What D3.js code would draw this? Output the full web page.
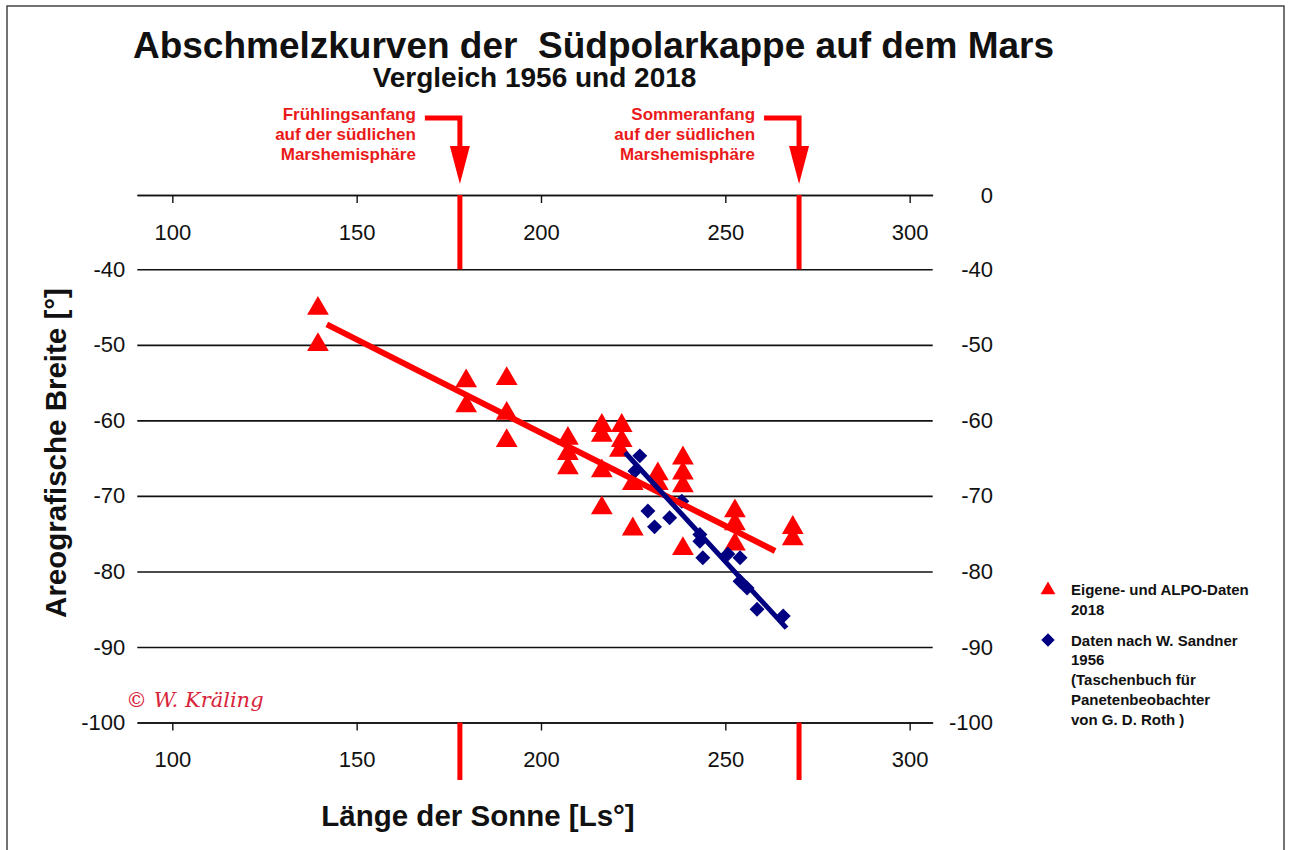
<!DOCTYPE html>
<html>
<head>
<meta charset="utf-8">
<script src="https://cdn.jsdelivr.net/npm/d3@7"></script>
<style>
  html, body { margin: 0; padding: 0; background: #fff; }
  svg { display: block; font-family: "Liberation Sans", Arial, sans-serif; }
</style>
</head>
<body>
<svg id="chart" width="1291" height="850"></svg>
<script>
// ---- data ----
const xTicks = [100, 150, 200, 250, 300];
const yTicksLeft = [-40, -50, -60, -70, -80, -90, -100];
const yTicksRight = [0, -40, -50, -60, -70, -80, -90, -100];
const yGridTicks = [0, -40, -50, -60, -70, -80, -90, -100];
const seasonLs = [178, 270];   // Frühlingsanfang, Sommeranfang

// 2018 data (Eigene- und ALPO-Daten): [Ls, areographic latitude]
const ls2018 = [139.5, 139.5, 179.7, 179.7, 190.7, 190.7, 190.7, 207.3, 207.3, 207.3,
                216.5, 216.5, 216.5, 216.5, 221.9, 221.9, 221.4, 224.9, 224.9, 231.7,
                231.7, 238.5, 238.5, 238.5, 238.5, 252.6, 252.6, 252.6, 268.3, 268.3];
const lat2018 = [-45.2, -50.0, -54.8, -58.1, -54.5, -59.1, -62.7, -62.4, -64.4, -66.3,
                 -60.7, -62.0, -66.7, -71.6, -60.7, -62.7, -64.0, -68.4, -74.4, -67.1,
                 -68.4, -65.0, -67.0, -68.7, -77.0, -72.0, -73.7, -76.4, -74.2, -75.7];

// 1956 data (W. Sandner)
const ls1956 = [226.8, 225.5, 229.0, 230.8, 234.9, 238.2, 243.1, 243.1, 243.9, 250.7,
                254.0, 254.0, 255.9, 258.6, 265.7];
const lat1956 = [-64.7, -66.7, -72.0, -74.1, -72.9, -70.7, -75.1, -76.0, -78.2, -77.7,
                 -78.2, -81.3, -82.2, -85.0, -85.9];

// trend line end points
const trendLs2018 = [141.9, 263.5];
const trendLat2018 = [-47.3, -77.3];
const trendLs1956 = [222.8, 266.6];
const trendLat1956 = [-64.25, -87.5];

const legendLines2018 = ["Eigene- und ALPO-Daten", "2018"];
const legendLines1956 = ["Daten nach W. Sandner", "1956", "(Taschenbuch für", "Panetenbeobachter", "von G. D. Roth )"];
const springLabel = ["Frühlingsanfang", "auf der südlichen", "Marshemisphäre"];
const summerLabel = ["Sommeranfang", "auf der südlichen", "Marshemisphäre"];

// ---- drawing ----
(function () {
const RED = "#ff0000", NAVY = "#000080", TXTRED = "#ea1a1a";
const svg = d3.select("#chart");
const pLeft = 137.3, pRight = 932.7, pTop = 195, yM40 = 269.3, pBottom = 722.5;
const fmt = d => String(d);   // plain hyphen-minus as in the reference

const x = d3.scaleLinear().domain([90.5, 306.25]).range([pLeft, pRight]);
// broken axis: 0 is drawn directly above -40
const y = d3.scaleLinear().domain([0, -40, -100]).range([pTop, yM40, pBottom]);

// frame
svg.append("rect").attr("x", 7).attr("y", 6).attr("width", 1277).attr("height", 860)
  .attr("fill", "none").attr("stroke", "#444").attr("stroke-width", 1.5);

// title
svg.append("text").attr("x", 593.5).attr("y", 58).attr("text-anchor", "middle")
  .attr("font-size", 37).attr("font-weight", "bold").attr("fill", "#111")
  .style("white-space", "pre")
  .text("Abschmelzkurven der  Südpolarkappe auf dem Mars");
svg.append("text").attr("x", 534.5).attr("y", 86.5).attr("text-anchor", "middle")
  .attr("font-size", 28).attr("font-weight", "bold").attr("fill", "#111")
  .text("Vergleich 1956 und 2018");

// gridlines
const grid = svg.append("g").attr("transform", `translate(${pRight},0)`)
  .call(d3.axisLeft(y).tickValues(yGridTicks).tickSize(pRight - pLeft).tickFormat(""));
grid.select(".domain").remove();
grid.selectAll("line").attr("stroke", "#111").attr("stroke-width", 1.6);

// x axes (top at 0 line, bottom at -100 line)
function styleX(g) {
  g.select(".domain").attr("stroke", "#111").attr("stroke-width", 1.6);
  g.selectAll(".tick line").attr("stroke", "#111").attr("stroke-width", 1.4);
  g.selectAll(".tick text").attr("font-size", 22).attr("fill", "#111")
    .attr("font-family", "'Liberation Sans', Arial, sans-serif");
}
svg.append("g").attr("transform", `translate(0,${pTop})`)
  .call(d3.axisBottom(x).tickValues(xTicks).tickFormat(fmt).tickSize(8).tickSizeOuter(0).tickPadding(21))
  .call(styleX);
svg.append("g").attr("transform", `translate(0,${pBottom})`)
  .call(d3.axisBottom(x).tickValues(xTicks).tickFormat(fmt).tickSize(8).tickSizeOuter(0).tickPadding(21))
  .call(styleX);

// y labels
function styleY(g) {
  g.select(".domain").remove();
  g.selectAll(".tick line").remove();
  g.selectAll(".tick text").attr("font-size", 22).attr("fill", "#111")
    .attr("font-family", "'Liberation Sans', Arial, sans-serif");
}
svg.append("g").attr("transform", `translate(${pLeft - 12},0)`)
  .call(d3.axisLeft(y).tickValues(yTicksLeft).tickFormat(fmt).tickSize(0).tickPadding(0)).call(styleY);
svg.append("g").attr("transform", `translate(993,0)`)
  .call(d3.axisLeft(y).tickValues(yTicksRight).tickFormat(fmt).tickSize(0).tickPadding(0)).call(styleY);

// season lines
const seasons = svg.append("g");
seasonLs.forEach(v => {
  seasons.append("line").attr("x1", x(v)).attr("x2", x(v)).attr("y1", pTop).attr("y2", yM40)
    .attr("stroke", RED).attr("stroke-width", 5);
  seasons.append("line").attr("x1", x(v)).attr("x2", x(v)).attr("y1", pBottom).attr("y2", 780)
    .attr("stroke", RED).attr("stroke-width", 5);
});

// season annotations with arrows
function annotate(v, lines) {
  const xv = x(v);
  const textRight = xv - 44;
  const g = svg.append("g");
  lines.forEach((t, i) => {
    g.append("text").attr("x", textRight).attr("y", 120 + i * 20).attr("text-anchor", "end")
      .attr("font-size", 17).attr("font-weight", "bold").attr("fill", TXTRED).text(t);
  });
  g.append("path")
    .attr("d", `M${xv - 35},118 H${xv} V148`)
    .attr("fill", "none").attr("stroke", RED).attr("stroke-width", 5);
  g.append("path")
    .attr("d", `M${xv - 10},146 L${xv + 10},146 L${xv},184 Z`)
    .attr("fill", RED);
}
annotate(seasonLs[0], springLabel);
annotate(seasonLs[1], summerLabel);

// markers
const tri = d3.symbol().type(d3.symbolTriangle).size(205);
const dia = d3.symbol().type(d3.symbolSquare).size(112);
const data2018 = ls2018.map((v, i) => [v, lat2018[i]]);
const data1956 = ls1956.map((v, i) => [v, lat1956[i]]);

svg.append("g").selectAll("path").data(data2018).join("path")
  .attr("d", tri).attr("fill", RED)
  .attr("transform", d => `translate(${x(d[0])},${y(d[1])})`);
svg.append("g").selectAll("path").data(data1956).join("path")
  .attr("d", dia).attr("fill", NAVY)
  .attr("transform", d => `translate(${x(d[0])},${y(d[1])}) rotate(45)`);

// trend lines
const line = d3.line().x(d => x(d[0])).y(d => y(d[1]));
svg.append("path").datum(trendLs2018.map((v, i) => [v, trendLat2018[i]]))
  .attr("d", line).attr("stroke", RED).attr("stroke-width", 6).attr("fill", "none");
svg.append("path").datum(trendLs1956.map((v, i) => [v, trendLat1956[i]]))
  .attr("d", line).attr("stroke", NAVY).attr("stroke-width", 5).attr("fill", "none");

// axis titles
svg.append("text").attr("transform", "translate(66,453) rotate(-90)").attr("text-anchor", "middle")
  .attr("font-size", 29.5).attr("font-weight", "bold").attr("fill", "#111")
  .text("Areografische Breite [°]");
svg.append("text").attr("x", 478).attr("y", 826).attr("text-anchor", "middle")
  .attr("font-size", 29.5).attr("font-weight", "bold").attr("fill", "#111")
  .text("Länge der Sonne [Ls°]");

// copyright
svg.append("text").attr("x", 126).attr("y", 707)
  .attr("font-family", "'DejaVu Serif', 'Liberation Serif', serif").attr("font-style", "italic")
  .attr("font-size", 21).attr("fill", "#d8243a").text("© W. Kräling");

// legend
const lg = svg.append("g");
lg.append("path").attr("d", d3.symbol().type(d3.symbolTriangle).size(95))
  .attr("fill", RED).attr("transform", "translate(1048,590)");
legendLines2018.forEach((t, i) => lg.append("text").attr("x", 1071).attr("y", 595 + i * 19.5)
  .attr("font-size", 15).attr("font-weight", "bold").attr("fill", "#111").text(t));
lg.append("path").attr("d", d3.symbol().type(d3.symbolSquare).size(90))
  .attr("fill", NAVY).attr("transform", "translate(1048,640) rotate(45)");
legendLines1956.forEach((t, i) => lg.append("text").attr("x", 1071).attr("y", 645.5 + i * 19.9)
  .attr("font-size", 15).attr("font-weight", "bold").attr("fill", "#111").text(t));
})();
</script>
</body>
</html>
